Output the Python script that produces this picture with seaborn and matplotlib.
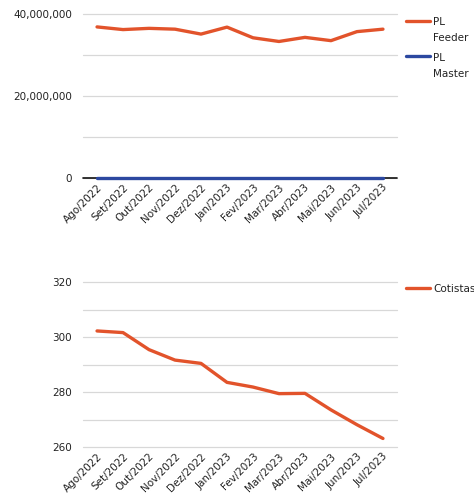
import matplotlib
matplotlib.use("Agg")
import matplotlib.pyplot as plt
import matplotlib.ticker as mticker
from matplotlib.legend_handler import HandlerLine2D
import seaborn as sns
import numpy as np
import pandas as pd

months = ["Ago/2022", "Set/2022", "Out/2022", "Nov/2022", "Dez/2022", "Jan/2023",
          "Fev/2023", "Mar/2023", "Abr/2023", "Mai/2023", "Jun/2023", "Jul/2023"]
pl_feeder = [36850000, 36200000, 36500000, 36300000, 35100000, 36800000,
             34200000, 33300000, 34300000, 33500000, 35700000, 36300000]
pl_master = [0, 0, 0, 0, 0, 0, 0, 0, 0, 0, 0, 0]
cotistas = [302.2, 301.6, 295.4, 291.6, 290.4, 283.5,
            281.8, 279.4, 279.5, 273.5, 268.1, 263.1]

orange = "#E2532B"
blue = "#2C48A0"

sns.set_theme(style="white")
plt.rcParams['font.family'] = ['DejaVu Sans']


class TopHandler(HandlerLine2D):
    def __init__(self, shift=0, **kw):
        super().__init__(**kw)
        self.shift = shift

    def create_artists(self, legend, orig_handle, xdescent, ydescent, width,
                       height, fontsize, trans):
        arts = super().create_artists(legend, orig_handle, xdescent, ydescent,
                                      width, height, fontsize, trans)
        for a in arts:
            yd = np.asarray(a.get_ydata(), dtype=float)
            a.set_ydata(yd + self.shift)
        return arts


fig = plt.figure(figsize=(4.74, 4.97), dpi=100)
W, H = 474, 497
ax1 = fig.add_axes([83 / W, 1 - 178 / H, (397 - 83) / W, (178 - 14) / H])
ax2 = fig.add_axes([83 / W, 1 - 447 / H, (397 - 83) / W, (447 - 282) / H])

x = np.arange(len(months))
df1 = pd.DataFrame({
    "x": np.concatenate([x, x]),
    "v": pl_feeder + pl_master,
    "s": ["PL\nFeeder"] * len(x) + ["PL\nMaster"] * len(x),
})
df2 = pd.DataFrame({"x": x, "v": cotistas, "s": ["Cotistas"] * len(x)})

sns.lineplot(data=df1, x="x", y="v", hue="s", palette=[orange, blue],
             linewidth=2.4, ax=ax1, zorder=4)
sns.lineplot(data=df2, x="x", y="v", hue="s", palette=[orange],
             linewidth=2.4, ax=ax2, zorder=4)

for ax in (ax1, ax2):
    for ln in ax.get_lines():
        ln.set_clip_on(False)
    ax.set_xlim(-0.54, len(months) - 1 + 0.54)
    ax.set_xticks(x)
    ax.set_xticklabels(months, rotation=45, ha="right", rotation_mode="anchor",
                       fontsize=7.5, color="#222222")
    ax.set_xlabel("")
    ax.set_ylabel("")
    for s in ax.spines.values():
        s.set_visible(False)
    ax.tick_params(axis="x", length=0, pad=3, labelsize=7.5, labelcolor="#222222")
    ax.tick_params(axis="y", length=0, pad=8, labelsize=7.5, labelcolor="#222222")
    ax.grid(False)

ax1.set_ylim(0, 40000000)
ax1.set_yticks([0, 20000000, 40000000])
ax1.yaxis.set_major_formatter(mticker.FuncFormatter(lambda v, p: f"{int(v):,}"))
ax1.yaxis.set_minor_locator(mticker.MultipleLocator(10000000))
ax1.grid(True, which="both", axis="y", color="#d8d8d8", linewidth=0.9)
ax1.axhline(0, color="#111111", linewidth=1.2, zorder=2, clip_on=False)

ax2.set_ylim(260, 320)
ax2.set_yticks([260, 280, 300, 320])
ax2.yaxis.set_minor_locator(mticker.MultipleLocator(10))
ax2.grid(True, which="both", axis="y", color="#d8d8d8", linewidth=0.9)

for ax in (ax1, ax2):
    ax.set_axisbelow(True)
    ax.tick_params(axis="y", which="minor", length=0)
    for t in ax.yaxis.get_major_ticks() + ax.yaxis.get_minor_ticks():
        t.gridline.set_clip_on(False)

leg1 = ax1.legend(loc="upper left", bbox_to_anchor=(406 / W, 1 - 17 / H),
                  bbox_transform=fig.transFigure, frameon=False, fontsize=7.5,
                  handlelength=2.3, handletextpad=0.3, borderpad=0, borderaxespad=0,
                  labelspacing=0.9, title=None,
                  handler_map={matplotlib.lines.Line2D: TopHandler(shift=7.2)})
leg2 = ax2.legend(loc="upper left", bbox_to_anchor=(406 / W, 1 - 284 / H),
                  bbox_transform=fig.transFigure, frameon=False, fontsize=7.5,
                  handlelength=2.3, handletextpad=0.3, borderpad=0, borderaxespad=0,
                  title=None)
for leg in (leg1, leg2):
    for t in leg.get_texts():
        t.set_color("#222222")
        t.set_multialignment("left")
for t in leg1.get_texts():
    t.set_linespacing(1.8)

fig.savefig("out.png", dpi=100)
